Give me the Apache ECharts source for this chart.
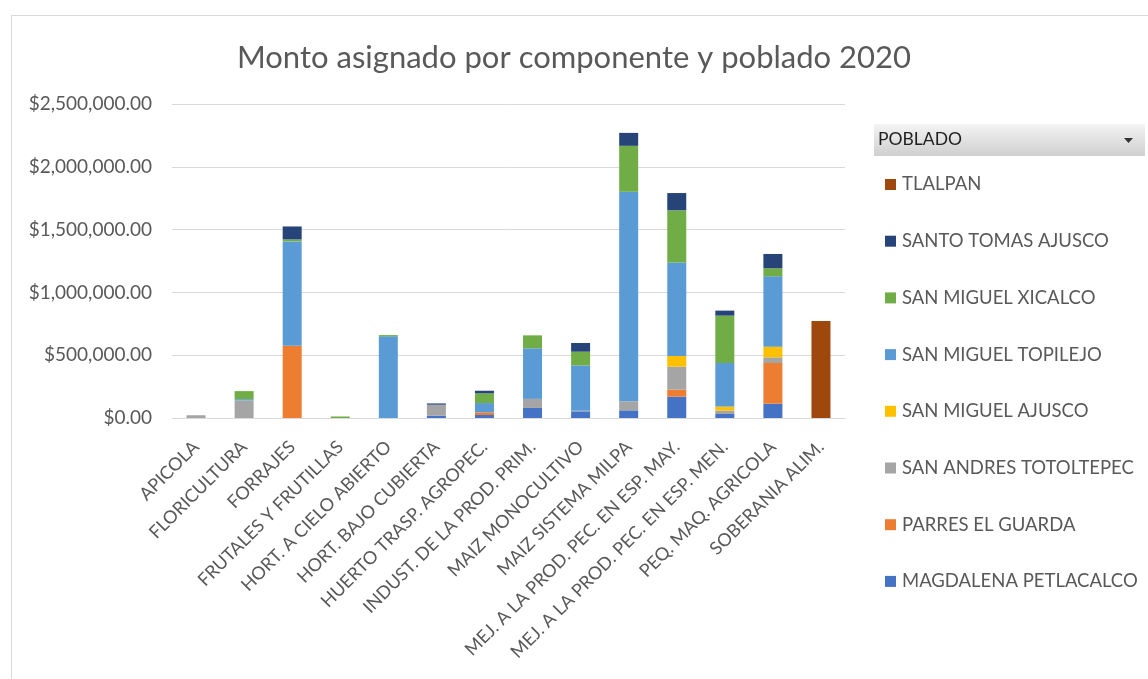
<!DOCTYPE html>
<html>
<head>
<meta charset="utf-8">
<script src="https://cdn.jsdelivr.net/npm/echarts@6/dist/echarts.min.js"></script>
<style>
  html, body { margin: 0; padding: 0; background: #fff; overflow: hidden; }
  #frame { position: absolute; left: 11px; top: 15px; width: 1200px; height: 700px; border: 1px solid #d9d9d9; }
  #chart_box { position: absolute; left: 0; top: 0; width: 1148px; height: 679px; }
</style>
</head>
<body>
<div id="frame"></div>
<div id="chart_box"></div>
<script>
// componentes (eje X)
const categories = [
  'APICOLA', 'FLORICULTURA', 'FORRAJES', 'FRUTALES Y FRUTILLAS', 'HORT. A CIELO ABIERTO',
  'HORT. BAJO CUBIERTA', 'HUERTO TRASP. AGROPEC.', 'INDUST. DE LA PROD. PRIM.', 'MAIZ MONOCULTIVO',
  'MAIZ SISTEMA MILPA', 'MEJ. A LA PROD. PEC. EN ESP. MAY.', 'MEJ. A LA PROD. PEC. EN ESP. MEN.',
  'PEQ. MAQ. AGRICOLA', 'SOBERANIA ALIM.'
];
// montos por poblado, en el orden de categories
const magdalena  = [null, null, null, null, null, 18000, 24000, 80000, 53000, 61000, 170000, 32000, 114000, null];
const parres     = [null, null, 576000, null, null, null, 21000, null, null, null, 56000, null, 324000, null];
const totoltepec = [22000, 140000, null, null, null, 88000, null, 72000, 5000, 72000, 183000, 27000, 45000, null];
const ajusco     = [null, null, null, null, null, null, null, null, null, null, 85000, 32000, 85000, null];
const topilejo   = [null, 10000, 830000, null, 650000, null, 74000, 403000, 361000, 1668000, 745000, 347000, 560000, null];
const xicalco    = [null, 64000, 16000, 12000, 10000, null, 77000, 103000, 109000, 366000, 414000, 377000, 64000, null];
const santoTomas = [null, null, 103000, null, null, 10000, 21000, null, 69000, 103000, 138000, 40000, 114000, null];
const tlalpan    = [null, null, null, null, null, null, null, null, null, null, null, null, null, 772000];

const yTicks = [0, 500000, 1000000, 1500000, 2000000, 2500000];

// orden de apilado (de abajo hacia arriba)
const seriesDef = [
  { name: 'MAGDALENA PETLACALCO', data: magdalena, color: '#4472C4' },
  { name: 'PARRES EL GUARDA', data: parres, color: '#ED7D31' },
  { name: 'SAN ANDRES TOTOLTEPEC', data: totoltepec, color: '#A5A5A5' },
  { name: 'SAN MIGUEL AJUSCO', data: ajusco, color: '#FFC000' },
  { name: 'SAN MIGUEL TOPILEJO', data: topilejo, color: '#5B9BD5' },
  { name: 'SAN MIGUEL XICALCO', data: xicalco, color: '#70AD47' },
  { name: 'SANTO TOMAS AJUSCO', data: santoTomas, color: '#264478' },
  { name: 'TLALPAN', data: tlalpan, color: '#9E480E' }
];

const font = 'Lato, "Open Sans", sans-serif';

function money(v) {
  return '$' + v.toLocaleString('en-US', { minimumFractionDigits: 2, maximumFractionDigits: 2 });
}

const myEcharts = echarts.init(document.getElementById('chart_box'));
myEcharts.setOption({
  animation: false,
  textStyle: { fontFamily: font },
  title: {
    text: 'Monto asignado por componente y poblado 2020',
    left: 569, top: 37, textAlign: 'center',
    textStyle: { fontFamily: font, fontSize: 31, fontWeight: 'normal', color: '#595959' }
  },
  legend: {
    orient: 'vertical',
    left: 880, top: 170,
    icon: 'rect',
    itemWidth: 11, itemHeight: 11,
    itemGap: 37.7,
    textStyle: { fontFamily: font, fontSize: 18.5, lineHeight: 19, color: '#595959', padding: [0, 0, 0, 1] },
    data: seriesDef.map(s => s.name).reverse()
  },
  graphic: [
    {
      type: 'rect', left: 874, top: 124,
      shape: { width: 271, height: 32 },
      style: {
        fill: new echarts.graphic.LinearGradient(0, 0, 0, 1, [
          { offset: 0, color: '#f4f4f4' }, { offset: 1, color: '#cfcfcf' }
        ])
      }
    },
    {
      type: 'text', left: 878, top: 130,
      style: { text: 'POBLADO', fontFamily: font, fontSize: 17.5, fill: '#1f1f1f' }
    },
    {
      type: 'polygon',
      shape: { points: [[1124, 138], [1133, 138], [1128.5, 143]] },
      style: { fill: '#333' }
    }
  ],
  grid: { left: 172, right: 303, top: 104, bottom: 261, containLabel: false },
  xAxis: {
    type: 'category',
    data: categories,
    axisTick: { show: false },
    axisLine: { show: true, lineStyle: { color: '#d9d9d9', width: 1 } },
    axisLabel: { interval: 0, rotate: 45, margin: 26, fontFamily: font, fontSize: 18, color: '#595959' }
  },
  yAxis: {
    type: 'value',
    min: yTicks[0], max: yTicks[yTicks.length - 1], interval: yTicks[1] - yTicks[0],
    axisLine: { show: false },
    axisTick: { show: false },
    splitLine: { lineStyle: { color: '#d9d9d9', width: 1 } },
    axisLabel: { fontFamily: font, fontSize: 19, color: '#595959', margin: 20, formatter: money }
  },
  series: seriesDef.map(s => ({
    name: s.name,
    type: 'bar',
    stack: 'total',
    barWidth: 19,
    itemStyle: { color: s.color },
    data: s.data
  }))
});
</script>
</body>
</html>
